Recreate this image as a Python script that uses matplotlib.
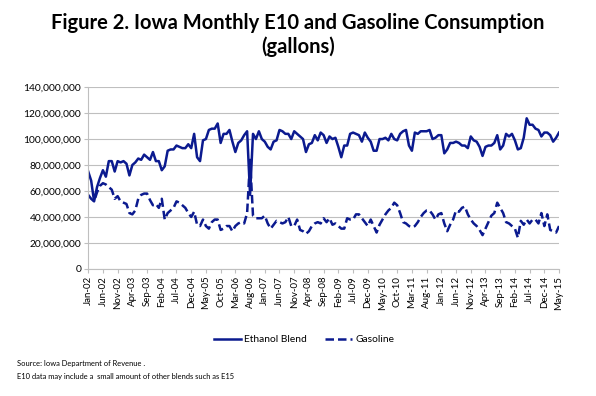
import numpy as np
import pandas as pd
import matplotlib
matplotlib.use("Agg")
import matplotlib.pyplot as plt
from matplotlib.ticker import FuncFormatter

plt.rcParams['font.family'] = ['Lato', 'DejaVu Sans']

# monthly consumption, millions of gallons
months = pd.date_range("2002-01-01", periods=161, freq="MS").strftime("%b-%y").tolist()

ethanol = [75, 68, 52, 63, 70, 76, 71, 83, 83, 75,
           83, 82, 83, 81, 72, 80, 82, 85, 84, 88,
           86, 84, 90, 83, 83, 76, 79, 91, 92, 92,
           95, 94, 93, 93, 96, 93, 104, 86, 83, 99,
           100, 107, 108, 108, 112, 97, 104, 104, 107, 98,
           90, 97, 99, 103, 106, 57, 104, 100, 106, 100,
           98, 94, 92, 98, 99, 107, 106, 104, 104, 100,
           106, 104, 102, 100, 90, 96, 97, 103, 99, 105,
           103, 97, 102, 100, 101, 94, 86, 95, 95, 104,
           105, 104, 103, 98, 105, 101, 98, 91, 91, 100,
           100, 101, 99, 104, 100, 99, 104, 106, 107, 95,
           91, 105, 104, 106, 106, 106, 107, 100, 101, 103,
           103, 89, 92, 97, 97, 98, 97, 95, 95, 93,
           102, 99, 98, 94, 87, 94, 95, 95, 97, 103,
           92, 95, 104, 102, 104, 99, 92, 93, 101, 116,
           111, 111, 108, 107, 102, 105, 105, 103, 98, 101, 105]

gasoline = [57, 54, 52, 59, 64, 66, 65, 63, 61, 54,
            56, 52, 51, 50, 43, 42, 45, 54, 57, 58,
            58, 53, 49, 50, 47, 54, 38, 43, 45, 47,
            52, 51, 49, 47, 43, 40, 44, 34, 33, 38,
            33, 31, 36, 38, 38, 30, 31, 33, 33, 29,
            33, 35, 36, 35, 43, 84, 41, 39, 39, 39,
            41, 35, 31, 34, 37, 36, 35, 36, 40, 33,
            33, 38, 30, 29, 27, 29, 33, 35, 36, 35,
            39, 36, 39, 34, 35, 33, 31, 31, 39, 38,
            38, 42, 42, 39, 36, 33, 38, 33, 28, 34,
            38, 42, 45, 47, 51, 49, 43, 36, 35, 33,
            32, 33, 36, 40, 43, 45, 45, 42, 38, 42,
            43, 35, 29, 34, 38, 45, 44, 47, 48, 42,
            38, 35, 33, 30, 26, 31, 36, 41, 43, 51,
            47, 43, 36, 35, 33, 31, 24, 37, 34, 38,
            35, 38, 38, 35, 43, 33, 42, 30, 29, 28, 33]

navy = '#0b1a8f'
grid_c = '#bfbfbf'

fig = plt.figure(figsize=(5.96, 3.96), dpi=100)
ax = fig.add_axes([0.148, 0.321, 0.790, 0.459])

x = np.arange(len(months))
ax.plot(x, np.array(ethanol) * 1e6, color=navy, lw=1.8, label='Ethanol Blend')
ax.plot(x, np.array(gasoline) * 1e6, color=navy, lw=1.8, ls=(0, (3.4, 1.6)), label='Gasoline')

ax.set_xlim(0, len(months) - 1)
ax.set_ylim(0, 140e6)
ax.set_yticks(np.arange(0, 140e6 + 1, 20e6))
ax.yaxis.set_major_formatter(FuncFormatter(lambda v, p: f"{v:,.0f}"))
ax.set_xticks(x[::5])
ax.set_xticklabels(months[::5], rotation=90, fontsize=7)
ax.tick_params(axis='y', labelsize=7.4, length=3, color=grid_c, pad=2)
ax.tick_params(axis='x', length=3, color=grid_c, pad=2)

ax.grid(True, axis='y', color=grid_c, lw=0.8)
ax.set_axisbelow(True)
for s in ['top', 'right']:
    ax.spines[s].set_visible(False)
for s in ['left', 'bottom']:
    ax.spines[s].set_color(grid_c)
    ax.spines[s].set_linewidth(0.8)

fig.text(0.5, 0.942, 'Figure 2. Iowa Monthly E10 and Gasoline Consumption',
         ha='center', va='center', fontsize=14.5, fontweight='bold')
fig.text(0.5, 0.882, '(gallons)', ha='center', va='center', fontsize=14.5, fontweight='bold')

fig.legend(loc='center', bbox_to_anchor=(0.51, 0.142), ncol=2, frameon=False,
           fontsize=7.4, handlelength=2.7, handletextpad=0.3, columnspacing=1.7)

fig.text(0.028, 0.081, 'Source: Iowa Department of Revenue .', fontsize=5.45, va='center')
fig.text(0.028, 0.050, 'E10 data may include a  small amount of other blends such as E15',
         fontsize=5.45, va='center')

fig.savefig('out.png', dpi=100)
